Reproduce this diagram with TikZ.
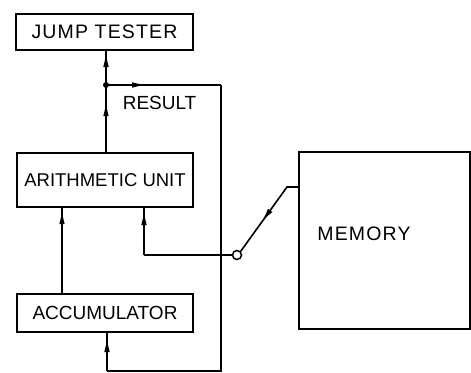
\documentclass[tikz,border=0pt]{standalone}
\usepackage{fontspec}
\setmainfont{Liberation Sans}
\usetikzlibrary{arrows.meta,decorations.markings}
\begin{document}
\begin{tikzpicture}[x=1pt,y=-1pt,
  line width=1.6pt,
  box/.style={draw, line width=1.7pt, inner sep=0pt, font=\fontsize{19}{22}\selectfont},
  lbl/.style={inner sep=0pt, font=\fontsize{19}{22}\selectfont},
  wide/.style={font=\fontsize{19.5}{22}\selectfont\addfontfeature{LetterSpace=6.0}},
  narrow/.style={font=\fontsize{18.5}{22}\selectfont},
  tipat/.style={postaction={decorate, decoration={markings,
      mark=at position #1 with {\arrow{Latex[length=15pt,width=5.5pt]}}}}},
  junc/.style={circle, fill, inner sep=0pt, minimum size=6pt},
  sw/.style={circle, draw, fill=white, inner sep=0pt, minimum size=9pt, line width=1.5pt}]
\useasboundingbox (0,0) rectangle (471,372);
\node[box, wide, minimum width=177pt, minimum height=36pt] (jt) at (104.5,32) {JUMP TESTER};
\node[box, narrow, minimum width=176pt, minimum height=54pt] (au) at (105,180) {ARITHMETIC UNIT};
\node[box, minimum width=176pt, minimum height=38pt] (acc) at (105,313) {ACCUMULATOR};
\node[box, minimum width=171pt, minimum height=177pt] (mem) at (384.5,240.5) {};
\node[lbl, wide] (memtext) at (364,234) {MEMORY};
\node[lbl, anchor=west] (res) at (122,103) {RESULT};
\coordinate (j) at (106,85);
\coordinate (tr) at (221,85);
\coordinate (br) at (221,371);
\coordinate (bl) at (107,371);
\coordinate (sc) at (144,255);
\coordinate (mk) at (287,187);
\node[sw] (s) at (237,255) {};
% result to jump tester
\draw[tipat=33pt] (j) -- (j |- jt.south);
% arithmetic unit to result junction
\draw[tipat=51pt] (au.north -| j) -- (j);
% result to feedback loop
\draw[tipat=41pt] (j) -- (tr);
\draw (tr) -- (br) -- (bl);
\draw[tipat=34pt] (bl) -- (bl |- acc.south);
% accumulator to arithmetic unit
\draw[tipat=84pt] (acc.north -| 62,0) -- (au.south -| 62,0);
% switch to arithmetic unit
\draw (s.west) -- (sc);
\draw[tipat=45pt] (sc) -- (sc |- au.south);
% memory to switch
\draw[tipat=55pt] (mem.west |- mk) -- (mk) -- (s.north east);
\node[junc] (jd) at (j) {};
\end{tikzpicture}
\end{document}
